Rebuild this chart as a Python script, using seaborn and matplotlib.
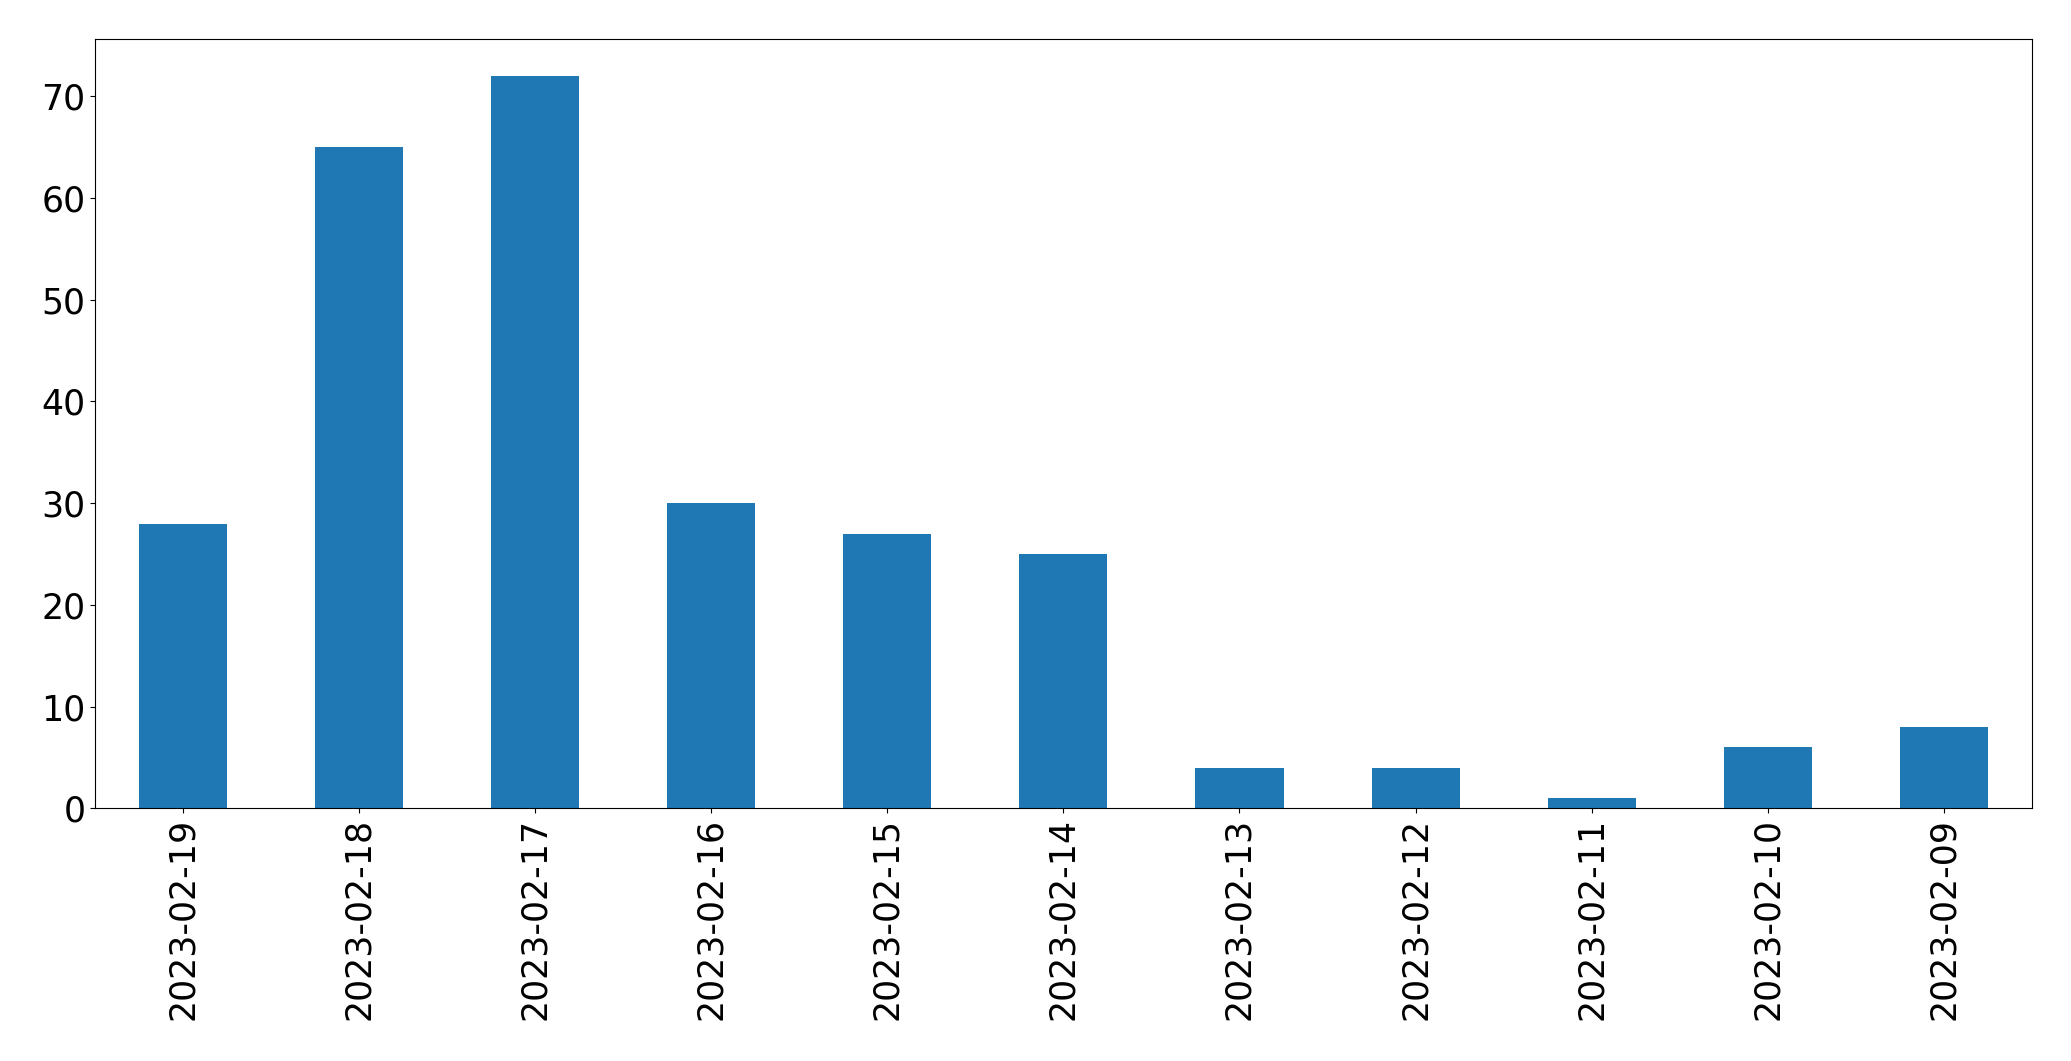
import matplotlib
matplotlib.use("Agg")
import matplotlib.pyplot as plt
import seaborn as sns

# daily counts (newest first, as in the original)
dates = ['2023-02-19', '2023-02-18', '2023-02-17', '2023-02-16', '2023-02-15',
         '2023-02-14', '2023-02-13', '2023-02-12', '2023-02-11', '2023-02-10',
         '2023-02-09']
counts = [28, 65, 72, 30, 27, 25, 4, 4, 1, 6, 8]

fig, ax = plt.subplots(figsize=(20.71, 10.61), dpi=100)
fig.subplots_adjust(left=0.046, right=0.981, top=0.963, bottom=0.238)

sns.barplot(x=dates, y=counts, color='#1f77b4', saturation=1, width=0.5, ax=ax)

ax.set_xlim(-0.5, len(dates) - 0.5)
ax.set_ylim(0, max(counts) * 1.05)
ax.tick_params(axis='both', labelsize=25)
ax.tick_params(axis='x', labelrotation=90)
ax.set_xlabel('')
ax.set_ylabel('')

fig.savefig('out.png', dpi=100)
